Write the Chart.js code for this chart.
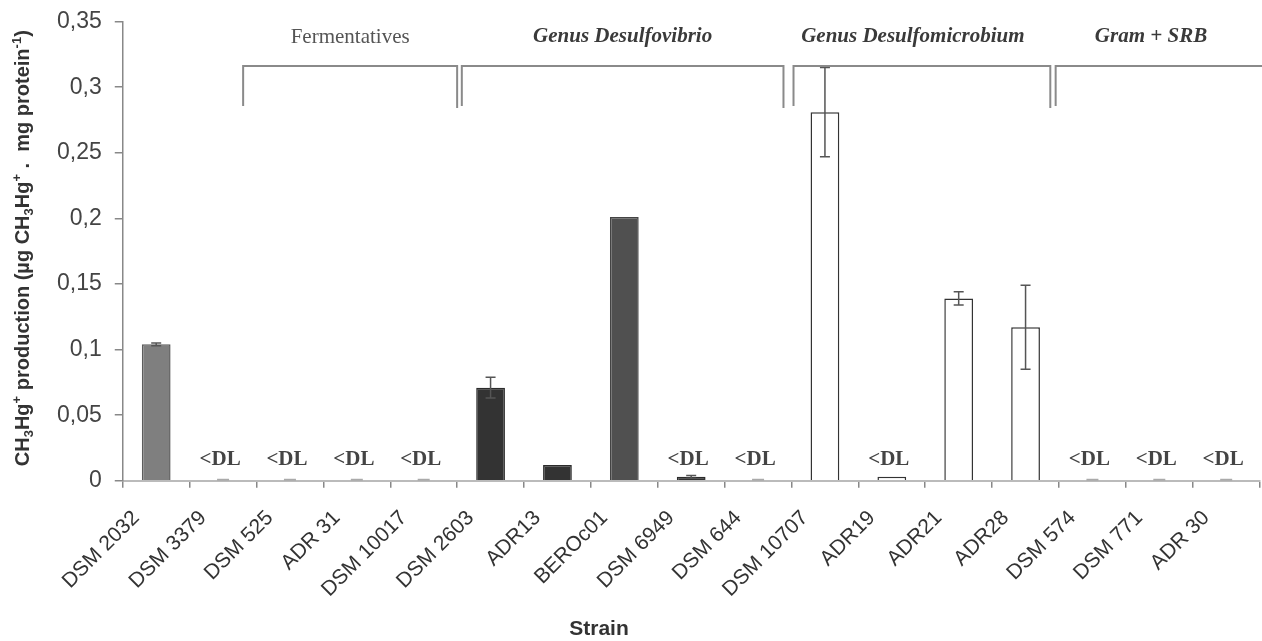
<!DOCTYPE html>
<html>
<head>
<meta charset="utf-8">
<script src="https://cdn.jsdelivr.net/npm/chart.js@4.4.1/dist/chart.umd.min.js"></script>
<style>
  html, body { margin: 0; padding: 0; background: #fff; }
  #wrap { width: 1262px; height: 641px; }
</style>
</head>
<body>
<div id="wrap"><canvas id="chart"></canvas></div>
<script>
'use strict';

// DATA
var strains = ['DSM 2032', 'DSM 3379', 'DSM 525', 'ADR 31', 'DSM 10017', 'DSM 2603', 'ADR13', 'BEROc01',
  'DSM 6949', 'DSM 644', 'DSM 10707', 'ADR19', 'ADR21', 'ADR28', 'DSM 574', 'DSM 771', 'ADR 30'];
var production = [0.104, 0, 0, 0, 0, 0.071, 0.012, 0.201, 0.003, 0, 0.281, 0.003, 0.139, 0.117, 0, 0, 0];
var errors = [0.001, 0, 0, 0, 0, 0.008, 0, 0, 0.001, 0, 0.034, 0, 0.005, 0.032, 0, 0, 0];
var belowDL = [false, true, true, true, true, false, false, false, true, true, false, true, false, false, true, true, true];
var yTickValues = [0, 0.05, 0.1, 0.15, 0.2, 0.25, 0.3, 0.35];
var yTickLabels = ['0', '0,05', '0,1', '0,15', '0,2', '0,25', '0,3', '0,35'];
var groupNames = ['Fermentatives', 'Genus Desulfovibrio', 'Genus Desulfomicrobium', 'Gram + SRB'];
var xTitle = 'Strain';

// STYLE
var fills = ['#7f7f7f', '#fff', '#fff', '#fff', '#fff', '#333333', '#333333', '#505050',
  '#333333', '#fff', '#ffffff', '#ffffff', '#ffffff', '#ffffff', '#fff', '#fff', '#fff'];
var borders = ['#5c5c5c', '#bbb', '#bbb', '#bbb', '#bbb', '#2b2b2b', '#2b2b2b', '#444',
  '#2b2b2b', '#bbb', '#333', '#333', '#333', '#333', '#bbb', '#bbb', '#bbb'];
// bracket edges in category units (0 = centre of first strain)
var bracketSpans = [[1.3, 4.5], [4.57, 9.38], [9.53, 13.37], [13.45, 16.6]];
var labelShift = [0, 0, -9, -10];
var groupFonts = ['21px "Liberation Serif"', 'italic bold 21px "Liberation Serif"',
  'italic bold 21px "Liberation Serif"', 'italic bold 21px "Liberation Serif"'];
var groupColors = ['#555', '#3a3a3a', '#3a3a3a', '#3a3a3a'];

function catPixel(scale, v) {
  var p0 = scale.getPixelForValue(0);
  var step = scale.getPixelForValue(1) - p0;
  return p0 + v * step;
}

// brackets + group names + x title
var groupPlugin = {
  id: 'groups',
  afterDraw: function(chart) {
    var ctx = chart.ctx;
    var xs = chart.scales.x;
    ctx.save();
    ctx.strokeStyle = '#8a8a8a';
    ctx.lineWidth = 2;
    for (var i = 0; i < groupNames.length; i++) {
      var l = catPixel(xs, bracketSpans[i][0]);
      var r = catPixel(xs, bracketSpans[i][1]);
      ctx.beginPath();
      ctx.moveTo(l, 106);
      ctx.lineTo(l, 66);
      ctx.lineTo(r, 66);
      ctx.lineTo(r, 108);
      ctx.stroke();
      ctx.font = groupFonts[i];
      ctx.fillStyle = groupColors[i];
      ctx.textAlign = 'center';
      ctx.textBaseline = 'middle';
      ctx.fillText(groupNames[i], (l + r) / 2 + labelShift[i], 37);
    }
    ctx.font = 'bold 21px "Liberation Sans"';
    ctx.fillStyle = '#333';
    ctx.fillText(xTitle, 599, 629);
    ctx.restore();
  }
};

// error bars, <DL marks
var marksPlugin = {
  id: 'marks',
  afterDatasetsDraw: function(chart) {
    var ctx = chart.ctx;
    var xs = chart.scales.x;
    var ys = chart.scales.y;
    ctx.save();
    for (var i = 0; i < strains.length; i++) {
      var px = xs.getPixelForValue(i);
      if (errors[i] > 0) {
        var top = ys.getPixelForValue(production[i] + errors[i]);
        var bot = ys.getPixelForValue(Math.max(0, production[i] - errors[i]));
        ctx.strokeStyle = '#555';
        ctx.lineWidth = 1.5;
        ctx.beginPath();
        ctx.moveTo(px, top); ctx.lineTo(px, bot);
        ctx.moveTo(px - 5, top); ctx.lineTo(px + 5, top);
        ctx.moveTo(px - 5, bot); ctx.lineTo(px + 5, bot);
        ctx.stroke();
      }
      if (production[i] === 0) {
        ctx.strokeStyle = '#aaa';
        ctx.lineWidth = 2;
        ctx.beginPath();
        ctx.moveTo(px - 6, ys.getPixelForValue(0) - 1);
        ctx.lineTo(px + 6, ys.getPixelForValue(0) - 1);
        ctx.stroke();
      }
      if (belowDL[i]) {
        ctx.font = 'bold 21px "Liberation Serif"';
        ctx.fillStyle = '#444';
        ctx.textAlign = 'center';
        ctx.textBaseline = 'middle';
        ctx.fillText('<DL', px - 3, ys.getPixelForValue(0) - 21);
      }
    }
    ctx.restore();
  }
};

// y title with sub/superscripts
var yTitlePlugin = {
  id: 'ytitle',
  afterDraw: function(chart) {
    var ctx = chart.ctx;
    var area = chart.chartArea;
    var parts = [
      ['CH', 0], ['3', -1], ['Hg', 0], ['+', 1], [' production (\u00b5g CH', 0], ['3', -1], ['Hg', 0], ['+', 1],
      [' .  mg protein', 0], ['-1', 1], [')', 0]
    ];
    var big = 'bold 20px "Liberation Sans"';
    var small = 'bold 13px "Liberation Sans"';
    var total = 0;
    parts.forEach(function(p) {
      ctx.font = p[1] === 0 ? big : small;
      total += ctx.measureText(p[0]).width;
    });
    ctx.save();
    ctx.translate(23, (area.top + area.bottom) / 2 - 3);
    ctx.rotate(-Math.PI / 2);
    ctx.fillStyle = '#333';
    ctx.textBaseline = 'middle';
    ctx.textAlign = 'left';
    var x = -total / 2;
    parts.forEach(function(p) {
      ctx.font = p[1] === 0 ? big : small;
      var dy = p[1] === 0 ? 0 : (p[1] > 0 ? -6 : 6);
      ctx.fillText(p[0], x, dy);
      x += ctx.measureText(p[0]).width;
    });
    ctx.restore();
  }
};

var ctx = document.getElementById('chart');
var myChart = new Chart(ctx, {
  type: 'bar',
  data: {
    labels: strains,
    datasets: [{
      data: production,
      backgroundColor: fills,
      borderColor: borders,
      borderWidth: 1.5,
      categoryPercentage: 1,
      barPercentage: 0.43
    }]
  },
  options: {
    responsive: true,
    maintainAspectRatio: false,
    animation: false,
    layout: { padding: { left: 44, top: 0, right: 0, bottom: 21 } },
    plugins: { legend: { display: false }, tooltip: { enabled: false } },
    scales: {
      x: {
        grid: { offset: true, drawOnChartArea: false, tickLength: 7, color: '#888', lineWidth: 1.5 },
        border: { color: '#bbb', width: 2 },
        ticks: {
          autoSkip: false, minRotation: 45, maxRotation: 45, labelOffset: -20, padding: 18,
          color: '#333', font: { family: '"Liberation Sans"', size: 21 }
        }
      },
      y: {
        min: 0, max: 0.35,
        grid: { drawOnChartArea: false, tickLength: 8, color: '#888', lineWidth: 1.5 },
        border: { color: '#888', width: 1.5 },
        afterBuildTicks: function(scale) {
          scale.ticks = yTickValues.map(function(v) { return { value: v }; });
        },
        ticks: {
          color: '#444', padding: 13,
          font: { family: '"Liberation Sans"', size: 23, lineHeight: 0.75 },
          callback: function(value) {
            var i = yTickValues.indexOf(value);
            return i >= 0 ? yTickLabels[i] : '';
          }
        }
      }
    }
  },
  plugins: [groupPlugin, marksPlugin, yTitlePlugin]
});
</script>
</body>
</html>
